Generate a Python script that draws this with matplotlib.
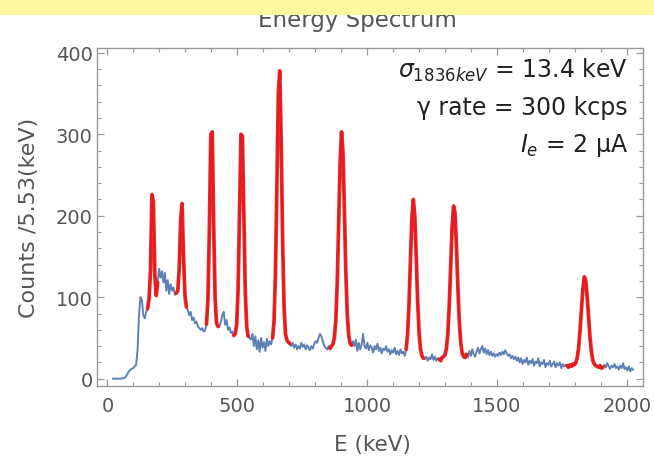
import numpy as np
import matplotlib
matplotlib.use('Agg')
import matplotlib.pyplot as plt
from matplotlib.ticker import MultipleLocator
from matplotlib.patches import Rectangle

# channel width of the spectrum and the first channel shown
bin_width = 5.53  # keV
first_channel = 4

# counts per channel (channel 4 .. 366)
counts = [
    0, 0, 0, 0, 0, 0, 0, 1, 1,                                   # 22 - 66 keV
    3, 6, 9, 11, 12, 13, 15, 17, 35, 78, 100, 97, 78, 74, 82,     # 72 - 149
    86, 98, 132, 226, 218, 128, 102,                              # 155 - 188 (peak 1)
    118, 135, 124, 132, 118, 130, 108, 121, 104, 116, 108, 112, 103,
    105, 108, 135, 195, 215, 150, 102, 88,                        # 265 - 304 (peak 2)
    84, 78, 82, 72, 75, 68, 70, 64, 62, 60, 62, 58, 59,
    67, 97, 184, 300, 303, 187, 98, 68, 64,                       # 382 - 426 (peak 3)
    64, 70, 78, 82, 66, 72, 60, 63, 56, 58,
    53, 55, 66, 110, 205, 300, 298, 200, 106, 63, 52, 50,         # 487 - 547 (peak 4)
    48, 55, 40, 52, 36, 47, 33, 50, 38, 45, 34, 49, 40, 46, 42,
    50, 70, 129, 237, 350, 378, 290, 169, 88, 55, 47, 45, 43,     # 636 - 702 (peak 5)
    40, 44, 38, 42, 36, 40, 37, 44, 39, 42,
    36, 41, 38, 35, 40, 37, 43, 46, 44, 50,
    55, 52, 46, 40, 38, 36, 40, 37,
    40, 42, 50, 71, 117, 189, 265, 303, 278, 207, 131, 79, 53, 43, 41,  # peak 6
    46, 40, 48, 34, 44, 36, 42, 55, 40, 37,
    44, 35, 41, 38, 32, 40, 36, 43, 34, 38,
    31, 37, 35, 40, 33, 36, 30, 35, 32, 38,
    30, 34, 29, 36, 31, 33, 28,
    36, 55, 93, 146, 198, 220, 200, 150, 95, 56, 36, 28, 25,      # peak 7
    24, 27, 22, 26, 24, 30, 23, 27, 22, 25, 24, 22, 26,
    27, 29, 37, 55, 90, 138, 186, 212, 204, 163, 112, 70, 44, 31, 27, 26,  # peak 8
    30, 26, 34, 28, 36, 30, 27, 33, 38, 31,
    36, 40, 32, 37, 30, 35, 29, 33, 28, 31,
    27, 30, 28, 32, 29, 33, 30, 35, 31, 28,
    30, 25, 28, 24, 27, 22, 26, 20, 25, 18,
    23, 20, 26, 17, 22, 19, 24, 16, 21, 19,
    25, 15, 20, 18, 23, 14, 19, 17, 22, 15,
    18, 21, 14, 19, 16, 20, 13, 18, 15, 17,
    16, 14, 17, 15, 18, 17, 19, 25, 37, 58,                       # peak 9
    84, 110, 125, 121, 101, 76, 50, 33, 22, 18,
    16, 15, 14, 16, 13, 14,
    17, 14, 19, 15, 12, 16, 14, 18, 13, 15,
    11, 16, 13, 19, 12, 14, 10, 15, 9, 13, 11,
]

# energy windows (keV) of the fitted peaks, drawn in red
peak_windows = [(150, 195), (262, 306), (378, 430), (484, 545), (633, 705),
                (855, 945), (1145, 1222), (1272, 1388), (1765, 1912)]

energy = bin_width * (first_channel + np.arange(len(counts)))
counts = np.array(counts, dtype=float)

fig = plt.figure(figsize=(6.54, 4.6), dpi=100)
ax = fig.add_axes([97 / 654, 73 / 460, 546 / 654, 338 / 460])

ax.plot(energy, counts, color='#5E81B5', lw=1.4, zorder=2)
for lo, hi in peak_windows:
    m = (energy >= lo) & (energy <= hi)
    ax.plot(energy[m], counts[m], color='#f01010', lw=2.7, alpha=0.9,
            solid_capstyle='round', solid_joinstyle='round', zorder=3)

ax.set_xlim(-40, 2062)
ax.set_ylim(-9, 406)

ax.xaxis.set_major_locator(MultipleLocator(500))
ax.xaxis.set_minor_locator(MultipleLocator(100))
ax.yaxis.set_major_locator(MultipleLocator(100))
ax.yaxis.set_minor_locator(MultipleLocator(20))
ax.tick_params(which='both', direction='in', top=True, right=True,
               color='#999999', labelcolor='#555555', labelsize=14)
ax.tick_params(which='major', length=5, width=0.9)
ax.tick_params(which='minor', length=3, width=0.8)
ax.tick_params(axis='x', pad=7)
ax.tick_params(axis='y', pad=3)
for s in ax.spines.values():
    s.set_color('#999999')
    s.set_linewidth(1.0)

ax.set_xlabel('E (keV)', fontsize=15.5, color='#555555', va='center')
ax.xaxis.set_label_coords(0.504, -0.172)
ax.set_ylabel('Counts /5.53(keV)', fontsize=16, color='#555555', va='center')
ax.yaxis.set_label_coords(-0.125, 0.5)

ax.text(0.9725, 0.916, r'$\sigma_{1836keV}$ = 13.4 keV', transform=ax.transAxes,
        ha='right', va='baseline', fontsize=17, color='#222222')
ax.text(0.9725, 0.805, 'γ rate = 300 kcps', transform=ax.transAxes,
        ha='right', va='baseline', fontsize=17, color='#222222')
ax.text(0.9725, 0.696, r'$I_e$ = 2 μA', transform=ax.transAxes,
        ha='right', va='baseline', fontsize=17, color='#222222')

# title, partly hidden by the yellow banner of the slide
fig.text(357 / 654, 433 / 460, 'Energy Spectrum', ha='center', va='baseline',
         fontsize=16.5, color='#555555', zorder=1)
fig.patches.append(Rectangle((0, 1 - 16 / 460), 1, 16 / 460, transform=fig.transFigure,
                             facecolor='#fff8a0', edgecolor='none', zorder=5))

fig.savefig('out.png', dpi=100)
